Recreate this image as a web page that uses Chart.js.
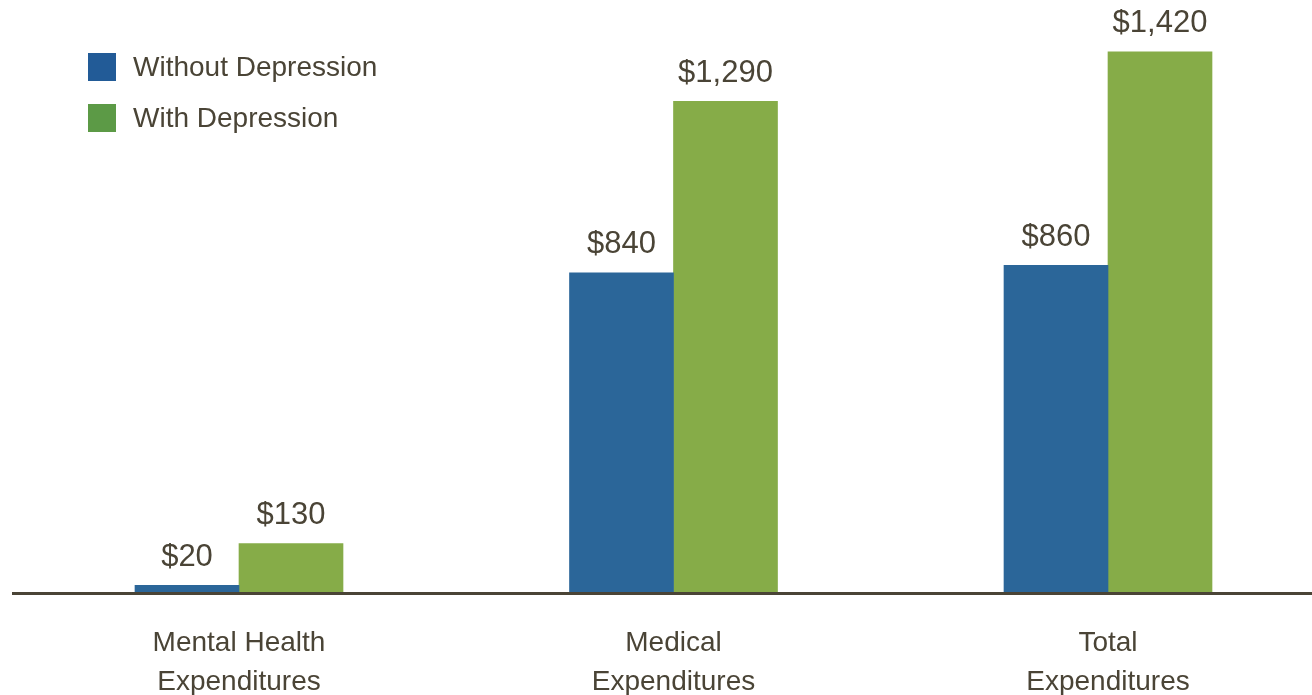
<!DOCTYPE html>
<html>
<head>
  <title>Expenditures with and without depression</title>
  <script src="https://cdn.jsdelivr.net/npm/chart.js"></script>
  <style>
    body { margin: 0; background: #fff; }
    #wrap { position: relative; width: 1312px; height: 695px; }
    #legend { position: absolute; left: 88px; top: 53px; font-family: "Liberation Sans", Arial, sans-serif; font-size: 28px; color: #4a4436; }
    #legend .item { position: relative; height: 28px; margin-bottom: 23px; }
    #legend .box { position: absolute; left: 0; top: 0; width: 28px; height: 28px; }
    #legend .txt { position: absolute; left: 45px; top: 50%; transform: translateY(-50%); white-space: nowrap; }
  </style>
</head>
<body>
  <div id="wrap">
    <canvas id="myChart"></canvas>
    <div id="legend"></div>
  </div>
  <script>
    var categories = [['Mental Health', 'Expenditures'], ['Medical', 'Expenditures'], ['Total', 'Expenditures']];
    var seriesNames = ['Without Depression', 'With Depression'];
    var withoutDepression = [20, 840, 860];
    var withDepression = [130, 1290, 1420];

    var barColors = ['#2B6699', '#86AC48'];
    var legendColors = ['#225B97', '#5C9A46'];
    var textColor = '#4a4436';
    var font = '"Liberation Sans", Arial, sans-serif';

    function money(v) {
      return '$' + v.toLocaleString('en-US');
    }

    // value labels over the bars
    var valueLabels = {
      id: 'valueLabels',
      afterDatasetsDraw: function(chart) {
        var ctx = chart.ctx;
        ctx.save();
        ctx.font = '31px ' + font;
        ctx.fillStyle = textColor;
        ctx.textAlign = 'center';
        ctx.textBaseline = 'middle';
        chart.data.datasets.forEach(function(ds, i) {
          chart.getDatasetMeta(i).data.forEach(function(bar, j) {
            ctx.fillText(money(ds.data[j]), bar.x, bar.y - 28);
          });
        });
        ctx.restore();
      }
    };

    // baseline runs across the whole width
    var baseline = {
      id: 'baseline',
      afterDatasetsDraw: function(chart) {
        var ctx = chart.ctx;
        var y = chart.scales.y.getPixelForValue(0);
        ctx.save();
        ctx.strokeStyle = textColor;
        ctx.lineWidth = 3;
        ctx.beginPath();
        ctx.moveTo(12, y + 0.5);
        ctx.lineTo(chart.width, y + 0.5);
        ctx.stroke();
        ctx.restore();
      }
    };

    var ctx = document.getElementById('myChart').getContext('2d');
    var myChart = new Chart(ctx, {
      type: 'bar',
      data: {
        labels: categories,
        datasets: [{
          label: seriesNames[0],
          data: withoutDepression,
          backgroundColor: barColors[0],
          barThickness: 104,
          clip: false
        }, {
          label: seriesNames[1],
          data: withDepression,
          backgroundColor: barColors[1],
          barThickness: 104,
          clip: false
        }]
      },
      options: {
        responsive: true,
        maintainAspectRatio: false,
        animation: false,
        layout: {
          padding: { left: 239, right: 204, top: 0, bottom: 0 }
        },
        scales: {
          x: {
            offset: false,
            grid: { display: false, drawTicks: false },
            border: { display: false },
            ticks: {
              color: textColor,
              font: { family: font, size: 28, lineHeight: 1.39 },
              padding: 31,
              maxRotation: 0,
              autoSkip: false
            },
            afterFit: function(scale) { scale.height = 102; }
          },
          y: {
            display: false,
            min: 0,
            max: 1556
          }
        },
        plugins: {
          legend: { display: false },
          tooltip: { enabled: false }
        }
      },
      plugins: [valueLabels, baseline]
    });

    var legend = document.getElementById('legend');
    seriesNames.forEach(function(name, i) {
      var item = document.createElement('div');
      item.className = 'item';
      item.innerHTML = '<span class="box" style="background:' + legendColors[i] + '"></span><span class="txt">' + name + '</span>';
      legend.appendChild(item);
    });
  </script>
</body>
</html>
